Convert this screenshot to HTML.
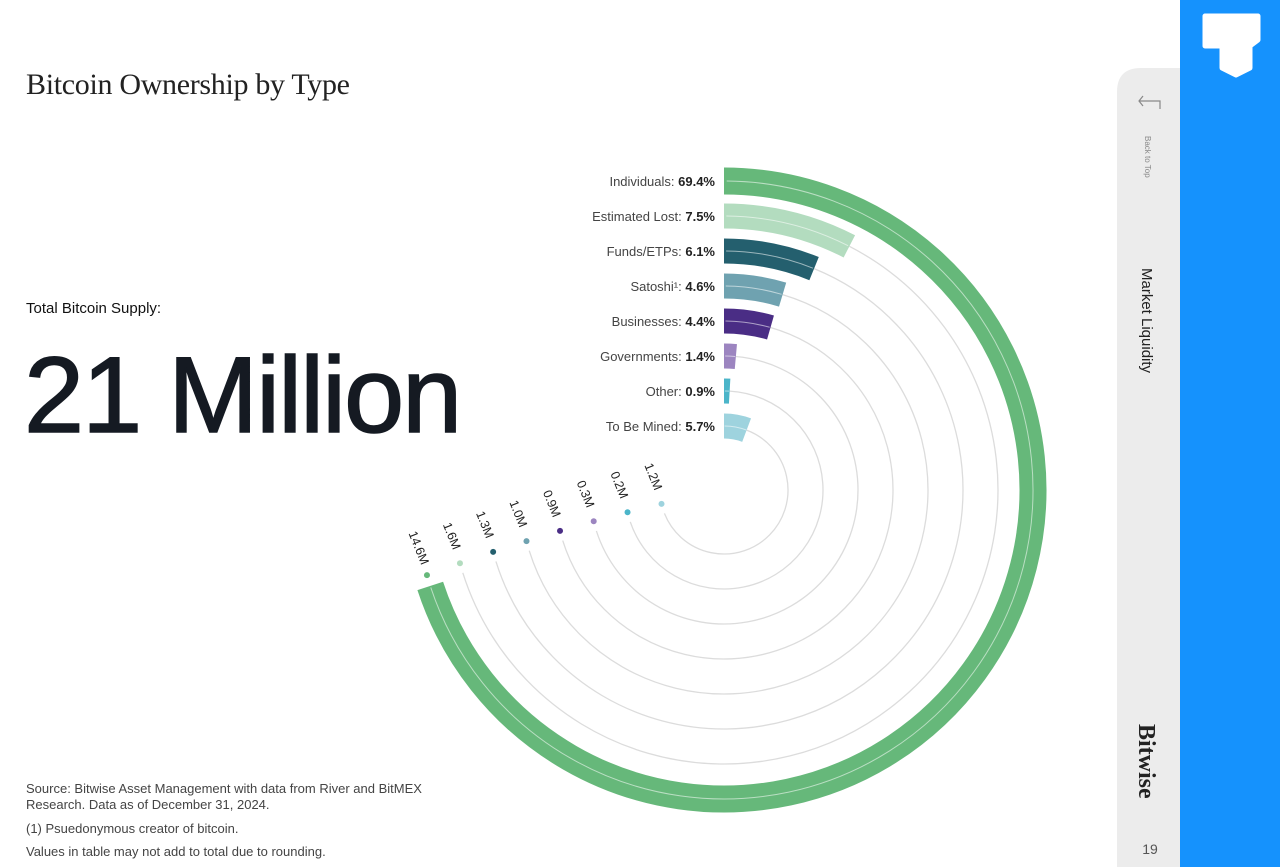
<!DOCTYPE html>
<html><head><meta charset="utf-8"><style>
html,body{margin:0;padding:0;background:#fff;width:1280px;height:867px;overflow:hidden;font-family:"Liberation Sans",Arial,sans-serif;}
</style></head><body>
<svg id="s" width="1280" height="867" viewBox="0 0 1280 867" xmlns="http://www.w3.org/2000/svg" font-family="Liberation Sans, Arial, sans-serif">
<rect width="1280" height="867" fill="#fff"/>
<text x="26" y="94" font-family="Liberation Serif, serif" font-size="30" fill="#222" textLength="324">Bitcoin Ownership by Type</text>
<text x="26" y="313" font-size="15" fill="#111">Total Bitcoin Supply:</text>
<text x="24" y="432" font-size="108" fill="#151a22" letter-spacing="-2" stroke="#151a22" stroke-width="1.5">21 Million</text>
<g font-size="13" fill="#444">
<text x="26" y="793">Source: Bitwise Asset Management with data from River and BitMEX</text>
<text x="26" y="809">Research. Data as of December 31, 2024.</text>
<text x="26" y="833">(1) Psuedonymous creator of bitcoin.</text>
<text x="26" y="856">Values in table may not add to total due to rounding.</text>
</g>
<g id="chart"></g>
<!-- sidebar -->
<path d="M1117 868 V92 Q1117 68 1141 68 H1181 V868 Z" fill="#ececec"/>
<rect x="1180" y="0" width="100" height="867" fill="#1592fd"/>
<path d="M1205 16 H1258 V40 L1250 46 V68 L1236 75 L1222 68 V46 H1205 Z" fill="#fff" stroke="#fff" stroke-width="5" stroke-linejoin="round"/>
<path d="M1143 96 L1139 101 L1143 106 M1139 101 H1160 V109" fill="none" stroke="#888" stroke-width="1.2"/>
<text transform="translate(1145,136) rotate(90)" font-size="8" fill="#888">Back to Top</text>
<text transform="translate(1142,268) rotate(90)" font-size="15" fill="#222">Market Liquidity</text>
<text transform="translate(1139,724) rotate(90)" font-family="Liberation Serif, serif" font-weight="bold" font-size="24" fill="#222">Bitwise</text>
<text x="1150" y="854" font-size="14" fill="#555" text-anchor="middle">19</text>
</svg>
<script>
var cx=724,cy=490,NS="http://www.w3.org/2000/svg",g=document.getElementById("chart");
var d=[["Individuals","69.4%",69.4,"#66b87a","14.6M"],["Estimated Lost","7.5%",7.5,"#b3dcbf","1.6M"],["Funds/ETPs","6.1%",6.1,"#245f6e","1.3M"],["Satoshi¹","4.6%",4.6,"#6fa2b0","1.0M"],["Businesses","4.4%",4.4,"#4a2d85","0.9M"],["Governments","1.4%",1.4,"#9c85c0","0.3M"],["Other","0.9%",0.9,"#4bb5c9","0.2M"],["To Be Mined","5.7%",5.7,"#9ed3de","1.2M"]];
function pt(r,a){a=a*Math.PI/180;return [cx+r*Math.sin(a),cy-r*Math.cos(a)];}
function arc(r,a0,a1){var p=pt(r,a0),q=pt(r,a1);return "M"+p[0]+" "+p[1]+" A"+r+" "+r+" 0 "+((a1-a0)>180?1:0)+" 1 "+q[0]+" "+q[1];}
function el(t,at,txt){var e=document.createElementNS(NS,t);for(var k in at)e.setAttribute(k,at[k]);if(txt!==undefined)e.textContent=txt;g.appendChild(e);return e;}
d.forEach(function(v,i){
 var r=309-35*i, w=i==0?27:25, a=v[2]*3.63, da=254+i*0.5;
 var gapA=10/r*180/Math.PI;
 if(a+1<da-gapA) el("path",{d:arc(r,a,da-gapA),fill:"none",stroke:"#dcdcdc","stroke-width":1.3});
 el("path",{d:arc(r,0,a),fill:"none",stroke:v[3],"stroke-width":w});
 if(a>1.5) el("path",{d:arc(r,0.5,a-0.3),fill:"none",stroke:"rgba(255,255,255,0.55)","stroke-width":1});
 var p=pt(r,da); el("circle",{cx:p[0],cy:p[1],r:3,fill:v[3]});
 var lx=p[0]-9,ly=p[1]-27;
 el("text",{transform:"translate("+lx+","+ly+") rotate(68)","font-size":12.5,fill:"#222","text-anchor":"middle","dominant-baseline":"middle"},v[4]);
 var t=el("text",{x:715,y:cy-r+5,"font-size":13,fill:"#444","text-anchor":"end"});
 var s1=document.createElementNS(NS,"tspan");s1.textContent=v[0]+": ";t.appendChild(s1);
 var s2=document.createElementNS(NS,"tspan");s2.setAttribute("font-weight","bold");s2.setAttribute("fill","#222");s2.textContent=v[1];t.appendChild(s2);
});
</script>
</body></html>
